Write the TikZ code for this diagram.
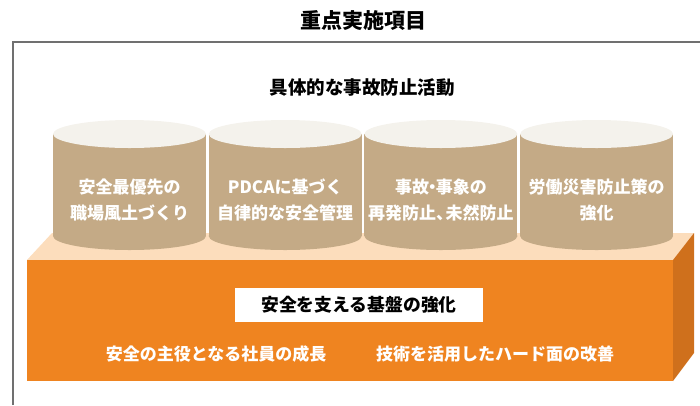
\documentclass[tikz,border=0pt]{standalone}
\usepackage{fontspec}
\setmainfont{Noto Sans CJK JP}
\definecolor{frame}{HTML}{707070}
\definecolor{cylbody}{HTML}{C4AA86}
\definecolor{cyltop}{HTML}{F4F2EC}
\definecolor{basetop}{HTML}{FCDDBC}
\definecolor{basefront}{HTML}{EF8420}
\definecolor{baseside}{HTML}{CF701C}
\tikzset{
  cyltext/.style={text=white, font=\bfseries\fontsize{17}{26}\selectfont, align=center, inner sep=0pt},
  heading/.style={text=black, font=\bfseries\fontsize{21}{24}\selectfont, inner sep=0pt},
  subheading/.style={text=black, font=\bfseries\fontsize{18.5}{22}\selectfont, inner sep=0pt},
  basetext/.style={text=white, font=\bfseries\fontsize{17}{20}\selectfont, inner sep=0pt},
  whitebox/.style={fill=white, text=black, font=\bfseries\fontsize{17.8}{20}\selectfont, minimum width=248pt, minimum height=34pt, inner sep=0pt},
}
\begin{document}
\begin{tikzpicture}[x=1pt,y=-1pt]
\useasboundingbox (0,0) rectangle (700,405);
% frame
\draw[frame, line width=1.6pt] (13,405) -- (13,42) -- (700,42);
% titles
\node[heading] (title) at (363,21) {重点実施項目};
\node[subheading] (sub) at (362,88) {具体的な事故防止活動};
% base block
\fill[basetop] (27,260) -- (52,233) -- (694,233) -- (673,260) -- cycle;
\fill[baseside] (673,260) -- (694,233) -- (694,353) -- (673,381) -- cycle;
\fill[basefront] (27,260) rectangle (673,381);
% cylinders
\foreach \i in {0,1,2,3}{
  \pgfmathsetmacro{\xa}{53+155.7*\i}
  \pgfmathsetmacro{\xc}{\xa+76.5}
  \fill[cylbody] (\xa,134) rectangle (\xa+153,236);
  \fill[cylbody] (\xc,236) ellipse [x radius=76.5pt, y radius=14pt];
  \fill[cyltop] (\xc,134) ellipse [x radius=76.5pt, y radius=14pt];
}
\node[cyltext] (c1) at (129.5,200) {安全最優先の\\職場風土づくり};
\node[cyltext] (c2) at (285.2,200) {PDCAに基づく\\自律的な安全管理};
\node[cyltext] (c3) at (440.9,200) {事故\kern-0.3em・\kern-0.3em事象の\\再発防止、\kern-0.45em未然防止};
\node[cyltext] (c4) at (596.6,200) {労働災害防止策の\\強化};
% base texts
\node[whitebox] (kiban) at (359,305) {安全を支える基盤の強化};
\node[basetext] (b1) at (216,354) {安全の主役となる社員の成長};
\node[basetext] (b2) at (495,354) {技術を活用したハード面の改善};
\end{tikzpicture}
\end{document}
